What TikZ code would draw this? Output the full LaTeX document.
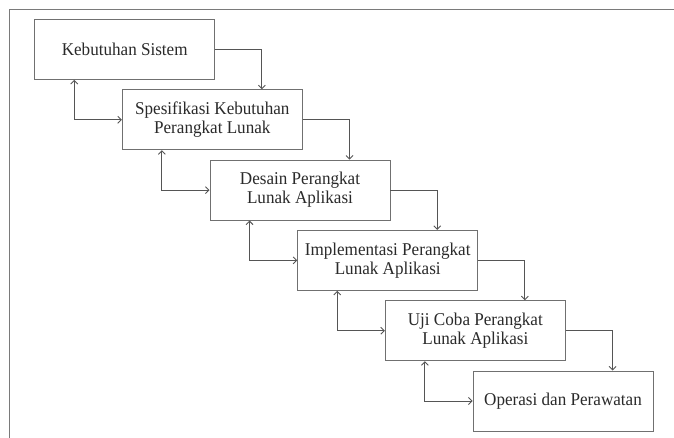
\documentclass[tikz,border=0pt]{standalone}
\usepackage{fontspec}
\setmainfont{Liberation Serif}[FakeStretch=0.95]
\usetikzlibrary{arrows.meta}
\definecolor{boxgray}{HTML}{707070}
\definecolor{linegray}{HTML}{555555}
\definecolor{framegray}{HTML}{7A7A7A}
\definecolor{textgray}{HTML}{2A2A2A}
\begin{document}
\begin{tikzpicture}[x=1pt,y=-1pt,
  phase/.style={draw=boxgray, line width=0.9pt, minimum width=180pt,
    minimum height=60pt, inner sep=0pt, align=center,
    font=\fontsize{18}{19}\selectfont, text=textgray},
  barb/.tip={Straight Barb[length=3.5pt,width=7pt]},
  flow/.style={draw=linegray, line width=0.9pt, -barb},
  loop/.style={draw=linegray, line width=0.9pt, barb-barb}]

\useasboundingbox (0,0) rectangle (674,438);
\fill[white] (0,0) rectangle (674,438);
% page frame (top and left edges)
\draw[framegray, line width=1.5pt] (9.5,438) -- (9.5,9.5) -- (674,9.5);

% waterfall phases
\node[phase] (b1) at (124.7,49.5)  {Kebutuhan Sistem};
\node[phase] (b2) at (212.3,119.8) {Spesifikasi Kebutuhan\\Perangkat Lunak};
\node[phase] (b3) at (300,190.1)   {Desain Perangkat\\Lunak Aplikasi};
\node[phase] (b4) at (387.7,260.4) {Implementasi Perangkat\\Lunak Aplikasi};
\node[phase] (b5) at (475.3,330.7) {Uji Coba Perangkat\\Lunak Aplikasi};
\node[phase] (b6) at (563,401)     {Operasi dan Perawatan};

% forward flow to the next phase
\foreach \a/\b in {b1/b2,b2/b3,b3/b4,b4/b5,b5/b6}
  \draw[flow] (\a.east) -| ([xshift=140pt]\b.north west);

% feedback between neighbouring phases
\foreach \a/\b in {b1/b2,b2/b3,b3/b4,b4/b5,b5/b6}
  \draw[loop] ([xshift=40pt]\a.south west) |- (\b.west);
\end{tikzpicture}
\end{document}
